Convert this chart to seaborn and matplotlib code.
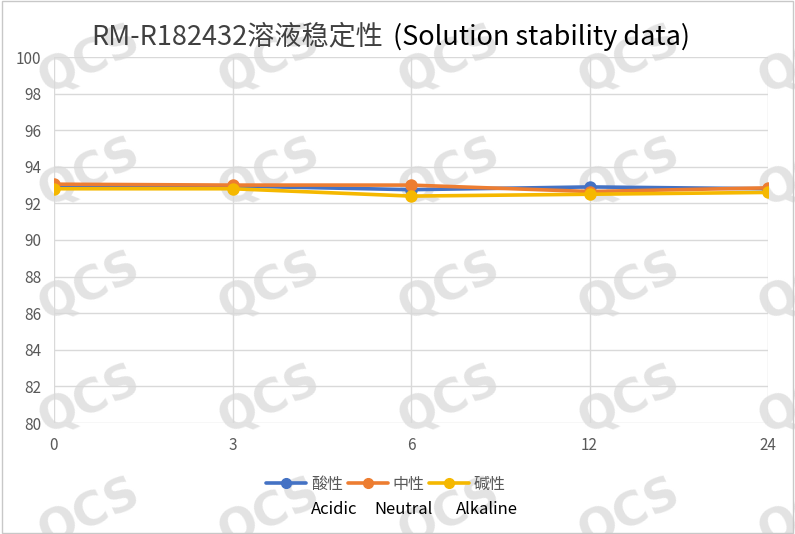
import numpy as np
import pandas as pd
import seaborn as sns
import matplotlib.pyplot as plt
from matplotlib.patches import Rectangle

# data
hours = ['0', '3', '6', '12', '24']
acidic = [92.95, 92.95, 92.75, 92.9, 92.8]
neutral = [93.05, 93.0, 93.0, 92.65, 92.85]
alkaline = [92.8, 92.8, 92.4, 92.5, 92.6]
series_cn = ['酸性', '中性', '碱性']
series_en = ['Acidic', 'Neutral', 'Alkaline']
colors = ['#4472C4', '#ED7D31', '#F5B800']

df = pd.DataFrame({
    'hour': hours * 3,
    'value': acidic + neutral + alkaline,
    'group': [series_cn[0]] * 5 + [series_cn[1]] * 5 + [series_cn[2]] * 5,
})

sns.set_style('white')
plt.rcParams['font.family'] = ['Noto Sans CJK SC', 'DejaVu Sans']

fig = plt.figure(figsize=(7.95, 5.34), dpi=100)
ax = fig.add_axes([54 / 795, 1 - 423 / 534, (768 - 54) / 795, (423 - 57) / 534])
ax.set_facecolor('none')

sns.pointplot(data=df, x='hour', y='value', hue='group', order=hours,
              hue_order=series_cn, palette=colors, markers='o',
              linewidth=2.6, markersize=7, errorbar=None, ax=ax, legend=False)

ax.set_xlim(0, 4)
ax.set_ylim(80, 100)
ax.set_yticks(np.arange(80, 101, 2))
ax.grid(True, color='#d9d9d9', linewidth=1)
for s in ax.spines.values():
    s.set_visible(False)
ax.tick_params(length=0, labelsize=11, colors='#595959')
ax.tick_params(axis='y', pad=9)
ax.tick_params(axis='x', pad=10)
ax.set_xlabel('')
ax.set_ylabel('')

# title in two parts
fig.text(383 / 795, 1 - 37 / 534, 'RM-R182432溶液稳定性', ha='right', va='center',
         fontsize=19.5, color='#404040')
fig.text(393 / 795, 1 - 37 / 534, '(Solution stability data)', ha='left', va='center',
         fontsize=19.5, color='#000000')

# legend
handles = [plt.Line2D([], [], color=c, lw=2.6, marker='o', markersize=7) for c in colors]
fig.legend(handles, series_cn, loc='center', bbox_to_anchor=(386 / 795, 1 - 484 / 534),
           ncol=3, frameon=False, fontsize=11.5, handlelength=2.5, handletextpad=0.3,
           columnspacing=0.3, labelcolor='#595959')
for name, x in zip(series_en, [334, 404, 487]):
    fig.text(x / 795, 1 - 510 / 534, name, ha='center', va='center', fontsize=12, color='black')

# watermarks
for xc in [90, 270, 450, 630, 810]:
    for yc in [60, 173, 287, 400, 513]:
        fig.text(xc / 795, 1 - yc / 534, 'QCS', ha='center', va='center', fontsize=33,
                 fontweight='bold', color='#dcdcdc', alpha=0.8, rotation=25,
                 family='DejaVu Sans', zorder=-1)

fig.patches.append(Rectangle((0.002, 0.002), 0.996, 0.996, transform=fig.transFigure,
                             fill=False, edgecolor='#c8c8c8', linewidth=1))

fig.savefig('out.png', dpi=100)
